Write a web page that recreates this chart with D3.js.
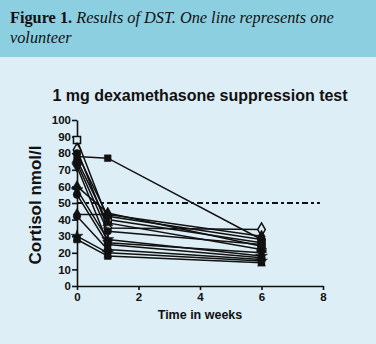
<!DOCTYPE html>
<html><head><meta charset="utf-8">
<script src="https://cdn.jsdelivr.net/npm/d3@7/dist/d3.min.js"></script>
<style>body{margin:0;padding:0;background:#ddeef6;}svg{display:block;}</style>
</head><body>
<script>
const weeks = [0, 1, 6];
const xTicks = [0, 2, 4, 6, 8];
const yTicks = [0, 10, 20, 30, 40, 50, 60, 70, 80, 90, 100];
const threshold = 50;
const volunteers = ["V1","V2","V3","V4","V5","V6","V7","V8","V9","V10","V11","V12","V13","V14"];
const cortisol = [
  [88, 40, 26],
  [82, 35, 34],
  [80, 42, 28],
  [78, 77, 28],
  [76, 38, 22],
  [74, 33, 25],
  [72, 26, 20],
  [60, 44, 24],
  [58, 28, 18],
  [55, 25, 17],
  [43, 43, 30],
  [42, 22, 16],
  [30, 20, 15],
  [28, 18, 14]
];
const markers = ["squareOpen","diamondOpen","circle","square","triangle","circle","triangleDown","triangle","star","circle","diamond","circle","star","square"];

const W = 376, H = 344;
const svg = d3.select("body").append("svg").attr("width", W).attr("height", H);
svg.append("rect").attr("width", W).attr("height", H).attr("fill", "#ddeef6");
svg.append("rect").attr("width", W).attr("height", 57).attr("fill", "#8ccfe1");

const cap = svg.append("text").attr("x", 10).attr("y", 23)
  .style("font-family", "'Liberation Serif', serif").style("font-size", "16.3px").attr("fill", "#111");
cap.append("tspan").attr("font-weight", "bold").text("Figure 1. ");
cap.append("tspan").attr("font-style", "italic").text("Results of DST. One line represents one");
svg.append("text").attr("x", 10).attr("y", 43)
  .style("font-family", "'Liberation Serif', serif").style("font-size", "16.3px").attr("font-style", "italic").attr("fill", "#111")
  .text("volunteer");

svg.append("text").attr("x", 200).attr("y", 101).attr("text-anchor", "middle")
  .style("font-family", "'Liberation Sans', Arial, sans-serif").style("font-size", "16px").attr("font-weight", "bold").attr("fill", "#111")
  .text("1 mg dexamethasone suppression test");

const x = d3.scaleLinear().domain([0, 8]).range([77, 323]);
const y = d3.scaleLinear().domain([0, 100]).range([286, 120]);

const gx = svg.append("g").attr("transform", `translate(0,${y(0)})`)
  .call(d3.axisBottom(x).tickValues(xTicks).tickSize(4).tickSizeOuter(0));
const gy = svg.append("g").attr("transform", `translate(${x(0)},0)`)
  .call(d3.axisLeft(y).tickValues(yTicks).tickSize(5).tickSizeOuter(0));
[gx, gy].forEach(g => {
  g.select(".domain").attr("stroke", "#111").attr("stroke-width", 1.6);
  g.selectAll(".tick line").attr("stroke", "#111").attr("stroke-width", 1.6);
  g.selectAll(".tick text").style("font-family", "'Liberation Sans', Arial, sans-serif")
    .style("font-size", "11.5px").attr("font-weight", "bold").attr("fill", "#111");
});
gy.selectAll(".tick text").attr("x", -6);
gx.selectAll(".tick text").attr("y", 7);

svg.append("text").attr("transform", `translate(41,${y(50)+2}) rotate(-90)`).attr("text-anchor", "middle")
  .style("font-family", "'Liberation Sans', Arial, sans-serif").style("font-size", "17px").attr("font-weight", "bold").attr("fill", "#111")
  .text("Cortisol nmol/l");
svg.append("text").attr("x", 200).attr("y", 319).attr("text-anchor", "middle")
  .style("font-family", "'Liberation Sans', Arial, sans-serif").style("font-size", "12.5px").attr("font-weight", "bold").attr("fill", "#111")
  .text("Time in weeks");

svg.append("line").attr("x1", x(0)).attr("x2", x(7.9)).attr("y1", y(threshold)).attr("y2", y(threshold))
  .attr("stroke", "#111").attr("stroke-width", 2).attr("stroke-dasharray", "6,3,3,3");

const line = d3.line().x((d, i) => x(weeks[i])).y(d => y(d));
const symMap = {
  square: d3.symbolSquare, squareOpen: d3.symbolSquare, diamond: d3.symbolDiamond, diamondOpen: d3.symbolDiamond,
  circle: d3.symbolCircle, triangle: d3.symbolTriangle, triangleDown: d3.symbolTriangle, star: d3.symbolStar
};
volunteers.forEach((v, k) => {
  const vals = cortisol[k];
  svg.append("path").attr("d", line(vals)).attr("fill", "none").attr("stroke", "#111").attr("stroke-width", 1.5);
  const m = markers[k];
  const open = m.endsWith("Open");
  vals.forEach((val, i) => {
    svg.append("path")
      .attr("d", d3.symbol().type(symMap[m]).size(open ? 50 : 45)())
      .attr("transform", `translate(${x(weeks[i])},${y(val)})${m === "triangleDown" ? " rotate(180)" : ""}`)
      .attr("fill", open ? "#ddeef6" : "#111").attr("stroke", "#111").attr("stroke-width", open ? 1.5 : 0.5);
  });
});
</script>
</body></html>
